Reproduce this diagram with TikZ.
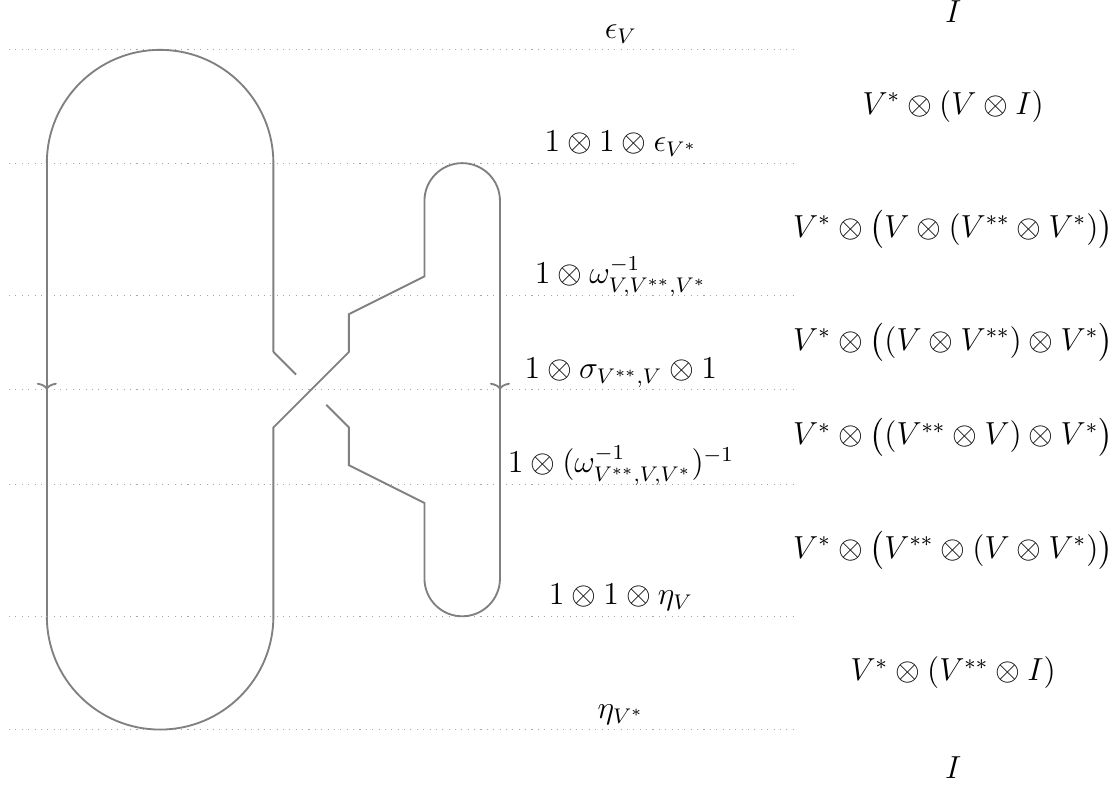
\documentclass[tikz,border=0pt]{standalone}
\usepackage{amsmath,amssymb}
\usepackage{tikz}
\usetikzlibrary{arrows.meta,calc,decorations.markings}

\begin{document}
\begin{tikzpicture}[
        strand/.style={draw=gray, line width=0.7pt},
        midarrow/.style={postaction={decorate}, decoration={markings, mark=at position 0.5 with {\arrow[gray]{Computer Modern Rightarrow[width=7.5pt, length=2.6pt]}}}},
        level/.style={dotted, gray!70},
        mor/.style={anchor=base, font=\large},
        obj/.style={font=\large}
    ]
        \useasboundingbox (-0.62,0.66) rectangle (14.17,-9.76);

        % levels
        \draw[level] (-0.5,0) -- (9.9,0);
        \draw[level] (-0.5,-1.5) -- (9.9,-1.5);
        \draw[level] (-0.5,-3.25) -- (9.9,-3.25);
        \draw[level] (-0.5,-4.5) -- (9.9,-4.5);
        \draw[level] (-0.5,-5.75) -- (9.9,-5.75);
        \draw[level] (-0.5,-7.5) -- (9.9,-7.5);
        \draw[level] (-0.5,-9) -- (9.9,-9);

        % morphisms
        \node[mor] (epsV) at (7.6,0.15) {$\epsilon_V$};
        \node[mor] (epsVs) at (7.6,-1.35) {$1 \otimes 1 \otimes \epsilon_{V^*}$};
        \node[mor] (omega) at (7.6,-3.1) {$1 \otimes \omega^{-1}_{V,V^{**},V^*}$};
        \node[mor] (sigma) at (7.6,-4.35) {$1 \otimes \sigma_{V^{**},V} \otimes 1$};
        \node[mor] (omegainv) at (7.6,-5.6) {$1 \otimes (\omega^{-1}_{V^{**},V,V^*})^{-1}$};
        \node[mor] (etaV) at (7.6,-7.35) {$1 \otimes 1 \otimes \eta_V$};
        \node[mor] (etaVs) at (7.6,-8.85) {$\eta_{V^*}$};

        % objects
        \node[obj] (ob0) at (12,0.5) {$I$};
        \node[obj] (ob1) at (12,-0.75) {$V^* \otimes (V \otimes I)$};
        \node[obj] (ob2) at (12,-2.375) {$V^* \otimes \bigl(V \otimes (V^{**} \otimes V^*)\bigr)$};
        \node[obj] (ob3) at (12,-3.875) {$V^* \otimes \bigl((V \otimes V^{**}) \otimes V^*\bigr)$};
        \node[obj] (ob4) at (12,-5.125) {$V^* \otimes \bigl((V^{**} \otimes V) \otimes V^*\bigr)$};
        \node[obj] (ob5) at (12,-6.625) {$V^* \otimes \bigl(V^{**} \otimes (V \otimes V^*)\bigr)$};
        \node[obj] (ob6) at (12,-8.25) {$V^* \otimes (V^{**} \otimes I)$};
        \node[obj] (ob7) at (12,-9.5) {$I$};

        % strings
        \draw[strand] (3,-4) -- (3,-1.5) arc[start angle=0, end angle=180, radius=1.5];
        \draw[strand, midarrow] (0,-1.5) -- (0,-7.5);
        \draw[strand] (0,-7.5) arc[start angle=180, end angle=360, radius=1.5] -- (3,-5) -- (4,-4) -- (4,-3.5) -- (5,-3) -- (5,-2) arc[start angle=180, end angle=0, radius=0.5];
        \draw[strand, midarrow] (6,-2) -- (6,-7);
        \draw[strand] (6,-7) arc[start angle=360, end angle=180, radius=0.5] -- (5,-6) -- (4,-5.5) -- (4,-5) -- ($(4,-5)!0.3!(3,-4)$);
        \draw[strand] ($(4,-5)!0.7!(3,-4)$) -- (3,-4);
    \end{tikzpicture}
\end{document}
